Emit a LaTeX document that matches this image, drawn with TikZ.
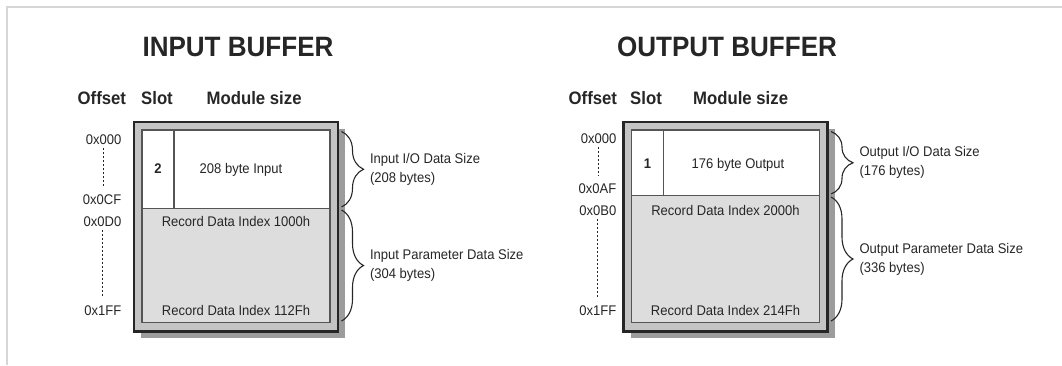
\documentclass[tikz,border=0pt]{standalone}
\usepackage{fontspec}
\setmainfont[FakeStretch=0.93]{Liberation Sans}
\usetikzlibrary{decorations.pathreplacing}
\definecolor{framegray}{HTML}{D6D6D6}
\definecolor{bandgray}{HTML}{C4C4C4}
\definecolor{paramgray}{HTML}{DDDDDD}
\definecolor{shadowgray}{HTML}{9C9C9C}
\definecolor{inkgray}{HTML}{262626}
\definecolor{cellgray}{HTML}{555555}
\tikzset{
	buftitle/.style={anchor=base, inner sep=0, text=inkgray, font=\fontsize{28}{32}\selectfont\bfseries},
	colhead/.style={anchor=base west, inner sep=0, text=inkgray, font=\fontsize{18}{21}\selectfont\bfseries},
	smalltext/.style={anchor=base, inner sep=0, text=inkgray, font=\fontsize{14}{19}\selectfont},
	offlabel/.style={smalltext, anchor=base east},
	offdots/.style={inkgray, line width=0.8, dash pattern=on 2pt off 2pt, shorten <=3.5pt, shorten >=7.5pt},
	sizebrace/.style={decorate, decoration={brace, amplitude=22pt}, inkgray, line width=1.1},
	sizelabel/.style={smalltext, align=left, midway, right=28pt}
}
\begin{document}
\begin{tikzpicture}[x=1pt, y=-1pt]
	\useasboundingbox (0,0) rectangle (1062,365);
	\draw [framegray, line width=1.5] (7,365) -- (7,7) -- (1062,7);

	\fill [shadowgray] (141,129) rectangle (345,337.5);
	\draw [inkgray, line width=2.5, fill=bandgray] (134,122) rectangle (338,331.5);
	\fill [white] (142,130) rectangle (330,208.5);
	\fill [paramgray] (142,208.5) rectangle (330,322.5);
	\draw [cellgray, line width=1.3] (142,130) rectangle (330,322.5) (142,208.5) -- (330,208.5) (174,130) -- (174,208.5);

	\node (inTitle) [buftitle] at (238,56.5) {INPUT BUFFER};
	\node (inOffset) [colhead] at (77.5,104) {Offset};
	\node (inSlot) [colhead] at (141,104) {Slot};
	\node (inModule) [colhead] at (206.5,104) {Module size};
	\node (in000) [offlabel] at (121.5,144) {0x000};
	\node (in0CF) [offlabel] at (121.5,204) {0x0CF};
	\node (in0D0) [offlabel] at (121.5,226.5) {0x0D0};
	\node (in1FF) [offlabel] at (121.5,315) {0x1FF};
	\draw [offdots] (in000.south) -- (in000.south |- in0CF.north);
	\draw [offdots] (in0D0.south) -- (in0D0.south |- in1FF.north);
	\node (inSlotNo) [smalltext, font=\fontsize{14}{19}\selectfont\bfseries] at (158,173.5) {2};
	\node (inModSize) [smalltext, anchor=base west] at (199.5,173.5) {208 byte Input};
	\node (inRecFirst) [smalltext] at (236,226.5) {Record Data Index 1000h};
	\node (inRecLast) [smalltext] at (236,315) {Record Data Index 112Fh};
	\coordinate (inB1) at (341.5,131.5);\coordinate (inB2) at (341.5,207);
	\coordinate (inB3) at (341.5,210);\coordinate (inB4) at (341.5,321);
	\draw [sizebrace] (inB1) -- (inB2) node (inIOSize) [sizelabel] {Input I/O Data Size\\(208 bytes)};
	\draw [sizebrace] (inB3) -- (inB4) node (inParSize) [sizelabel] {Input Parameter Data Size\\(304 bytes)};

	\fill [shadowgray] (630.5,129) rectangle (834.5,337.5);
	\draw [inkgray, line width=2.5, fill=bandgray] (623.5,122) rectangle (827.5,331.5);
	\fill [white] (631.5,130) rectangle (819.5,195.5);
	\fill [paramgray] (631.5,195.5) rectangle (819.5,322.5);
	\draw [cellgray, line width=1.3] (631.5,130) rectangle (819.5,322.5) (631.5,195.5) -- (819.5,195.5) (663.5,130) -- (663.5,195.5);

	\node (outTitle) [buftitle] at (727,56.5) {OUTPUT BUFFER};
	\node (outOffset) [colhead] at (568.5,104) {Offset};
	\node (outSlot) [colhead] at (630,104) {Slot};
	\node (outModule) [colhead] at (693,104) {Module size};
	\node (out000) [offlabel] at (616.5,143.5) {0x000};
	\node (out0AF) [offlabel] at (616.5,193.3) {0x0AF};
	\node (out0B0) [offlabel] at (616.5,215) {0x0B0};
	\node (out1FF) [offlabel] at (616.5,315) {0x1FF};
	\draw [offdots] (out000.south) -- (out000.south |- out0AF.north);
	\draw [offdots] (out0B0.south) -- (out0B0.south |- out1FF.north);
	\node (outSlotNo) [smalltext, font=\fontsize{14}{19}\selectfont\bfseries] at (647.5,168.5) {1};
	\node (outModSize) [smalltext, anchor=base west] at (691.5,168.5) {176 byte Output};
	\node (outRecFirst) [smalltext] at (725.5,215) {Record Data Index 2000h};
	\node (outRecLast) [smalltext] at (725.5,315) {Record Data Index 214Fh};
	\coordinate (outB1) at (831,131.5);\coordinate (outB2) at (831,194);
	\coordinate (outB3) at (831,197);\coordinate (outB4) at (831,321);
	\draw [sizebrace] (outB1) -- (outB2) node (outIOSize) [sizelabel] {Output I/O Data Size\\(176 bytes)};
	\draw [sizebrace] (outB3) -- (outB4) node (outParSize) [sizelabel] {Output Parameter Data Size\\(336 bytes)};
\end{tikzpicture}
\end{document}
